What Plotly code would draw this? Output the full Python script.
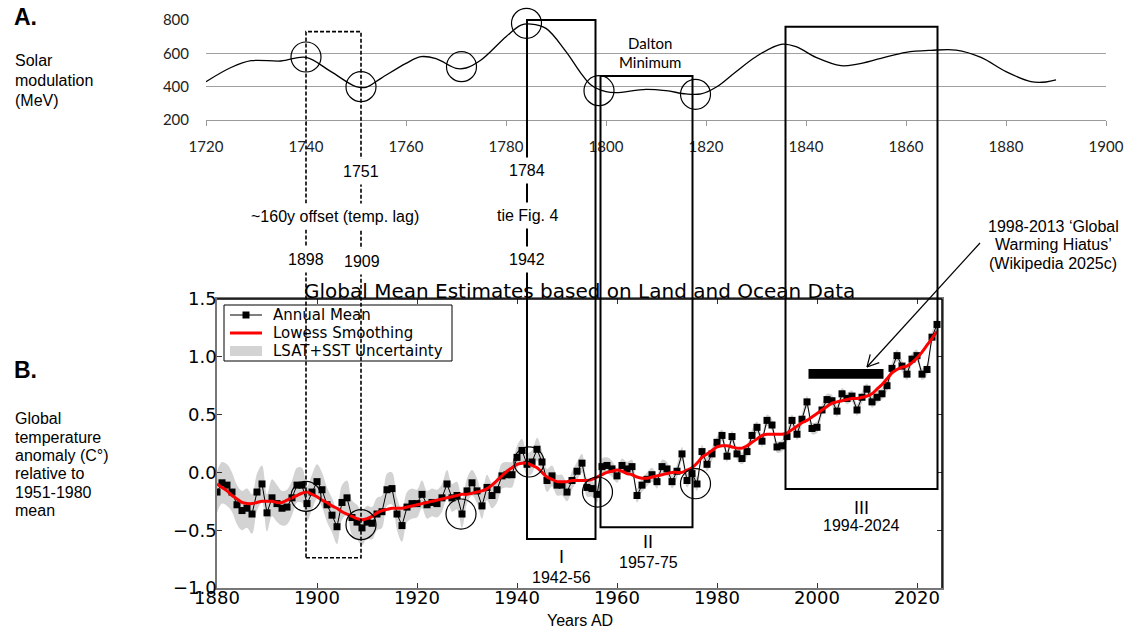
import math
import plotly.graph_objects as go

W, H = 1135, 630

# ---------------- data ----------------
solar_years = [1720, 1725, 1729, 1735, 1740, 1745, 1750, 1752, 1755, 1760, 1763, 1766,
               1770, 1772, 1775, 1780, 1783, 1785, 1788, 1792, 1795, 1797, 1800, 1802,
               1808, 1812, 1816, 1819, 1822, 1826, 1830, 1835, 1838, 1842, 1847, 1850,
               1855, 1860, 1865, 1870, 1875, 1880, 1885, 1888, 1890]
solar_mev = [430, 515, 556, 554, 576, 490, 400, 396, 450, 540, 580, 568,
             510, 512, 560, 700, 770, 776, 750, 610, 480, 410, 370, 364,
             384, 376, 356, 356, 396, 490, 580, 654, 640, 576, 526, 534,
             570, 606, 618, 620, 576, 490, 430, 428, 440]

years = list(range(1880, 2025))
annual_mean = [
    -0.17, -0.09, -0.11, -0.17, -0.28, -0.33, -0.31, -0.36, -0.17, -0.10,
    -0.35, -0.22, -0.27, -0.31, -0.30, -0.22, -0.11, -0.11, -0.27, -0.17,
    -0.08, -0.15, -0.28, -0.37, -0.47, -0.26, -0.22, -0.39, -0.43, -0.48,
    -0.43, -0.44, -0.36, -0.34, -0.15, -0.14, -0.36, -0.46, -0.30, -0.27,
    -0.27, -0.19, -0.28, -0.26, -0.27, -0.22, -0.10, -0.22, -0.20, -0.36,
    -0.16, -0.09, -0.16, -0.29, -0.13, -0.20, -0.15, -0.03, -0.02, -0.02,
    0.13, 0.19, 0.07, 0.09, 0.20, 0.09, -0.07, -0.03, -0.11, -0.11,
    -0.17, -0.07, 0.01, 0.08, -0.13, -0.14, -0.19, 0.05, 0.06, 0.03,
    -0.03, 0.06, 0.03, 0.05, -0.20, -0.11, -0.06, -0.02, -0.08, 0.05,
    0.03, -0.08, 0.01, 0.16, -0.07, -0.01, -0.10, 0.18, 0.07, 0.16,
    0.26, 0.32, 0.14, 0.31, 0.16, 0.12, 0.18, 0.32, 0.39, 0.27,
    0.45, 0.41, 0.22, 0.23, 0.31, 0.45, 0.33, 0.46, 0.61, 0.38,
    0.39, 0.54, 0.63, 0.62, 0.53, 0.68, 0.64, 0.66, 0.54, 0.65,
    0.72, 0.61, 0.65, 0.68, 0.75, 0.90, 1.01, 0.92, 0.85, 0.98,
    1.01, 0.85, 0.89, 1.17, 1.28]
lowess = [
    -0.10, -0.13, -0.16, -0.20, -0.23, -0.26, -0.27, -0.27, -0.26, -0.25,
    -0.25, -0.25, -0.26, -0.26, -0.24, -0.22, -0.20, -0.18, -0.17, -0.19,
    -0.21, -0.24, -0.26, -0.29, -0.31, -0.34, -0.36, -0.38, -0.40, -0.41,
    -0.40, -0.38, -0.35, -0.33, -0.32, -0.31, -0.31, -0.31, -0.30, -0.29,
    -0.28, -0.27, -0.26, -0.25, -0.24, -0.23, -0.22, -0.21, -0.20, -0.19,
    -0.19, -0.18, -0.17, -0.16, -0.14, -0.11, -0.07, -0.03, 0.01, 0.04,
    0.07, 0.08, 0.08, 0.06, 0.04, 0.00, -0.04, -0.06, -0.08, -0.08,
    -0.08, -0.07, -0.07, -0.07, -0.07, -0.06, -0.04, -0.02, 0.00, 0.01,
    0.02, 0.01, -0.01, -0.02, -0.04, -0.05, -0.05, -0.04, -0.03, -0.02,
    -0.01, 0.00, 0.00, 0.00, 0.02, 0.04, 0.08, 0.13, 0.16, 0.19,
    0.22, 0.23, 0.23, 0.22, 0.21, 0.21, 0.23, 0.26, 0.29, 0.32,
    0.33, 0.33, 0.33, 0.33, 0.34, 0.37, 0.40, 0.43, 0.45, 0.48,
    0.51, 0.54, 0.57, 0.60, 0.61, 0.62, 0.63, 0.64, 0.64, 0.65,
    0.66, 0.68, 0.72, 0.76, 0.81, 0.86, 0.89, 0.91, 0.92, 0.95,
    0.99, 1.04, 1.10, 1.16, 1.22]
uncertainty = [
    0.18, 0.18, 0.18, 0.17, 0.17, 0.17, 0.17, 0.17, 0.16, 0.16,
    0.16, 0.16, 0.16, 0.15, 0.15, 0.15, 0.15, 0.15, 0.15, 0.15,
    0.15, 0.15, 0.15, 0.15, 0.15, 0.15, 0.15, 0.15, 0.15, 0.15,
    0.14, 0.14, 0.14, 0.14, 0.14, 0.14, 0.14, 0.14, 0.13, 0.13,
    0.12, 0.12, 0.12, 0.12, 0.12, 0.12, 0.12, 0.12, 0.12, 0.12,
    0.11, 0.11, 0.11, 0.11, 0.11, 0.11, 0.11, 0.11, 0.11, 0.11,
    0.10, 0.10, 0.10, 0.10, 0.10, 0.10, 0.10, 0.09, 0.09, 0.09,
    0.08, 0.08, 0.08, 0.08, 0.08, 0.07, 0.07, 0.07, 0.07, 0.07,
    0.06, 0.06, 0.06, 0.06, 0.06, 0.06, 0.06, 0.06, 0.06, 0.06,
    0.06, 0.06, 0.06, 0.06, 0.06, 0.06, 0.06, 0.06, 0.06, 0.06,
    0.05, 0.05, 0.05, 0.05, 0.05, 0.05, 0.05, 0.05, 0.05, 0.05,
    0.05, 0.05, 0.05, 0.05, 0.05, 0.05, 0.05, 0.05, 0.05, 0.05,
    0.05, 0.05, 0.05, 0.05, 0.05, 0.05, 0.05, 0.05, 0.05, 0.05,
    0.05, 0.05, 0.05, 0.05, 0.05, 0.05, 0.05, 0.05, 0.05, 0.05,
    0.05, 0.05, 0.05, 0.05, 0.05]

top_xticks = [1720, 1740, 1760, 1780, 1800, 1820, 1840, 1860, 1880, 1900]
top_yticks = [200, 400, 600, 800]
bot_xticks = [1880, 1900, 1920, 1940, 1960, 1980, 2000, 2020]
bot_yticks = [-1.0, -0.5, 0.0, 0.5, 1.0, 1.5]
bot_yticktext = ["\u22121.0", "\u22120.5", "0.0", "0.5", "1.0", "1.5"]
legend_labels = ["Annual Mean", "Lowess Smoothing", "LSAT+SST Uncertainty"]

# circled points (year, value)
top_circles = [(1740, 578), (1751, 400), (1771.1, 520), (1784.1, 780), (1798.6, 376), (1817.9, 354)]
bot_circles = [(1897.8, -0.208), (1908.8, -0.452), (1928.8, -0.36), (1942.4, 0.09), (1956.1, -0.17), (1975.7, -0.098)]

# boxes spanning both panels: (year0, year1 on top axis, top value (MeV), bottom value (deg C))
tall_boxes = [(1784.2, 1797.9, 800, -0.576), (1798.9, 1817.3, 464, -0.475), (1835.9, 1866.3, 760, -0.144)]
dashed_box = (1740, 1751, 730, -0.738)
hiatus = (1998.3, 2013.3, 0.811, 0.894)

# ---------------- layout geometry (pixels) ----------------
TOP_X = (206, 1106); TOP_Y = (20, 120)
BOT_X = (217, 942); BOT_Y = (299, 588)
TOP_YR = (200, 800); BOT_YR = (-1.0, 1.5)


def px(x):
    return x / W


def py(y):
    return 1 - y / H


def ty(v):
    return py(TOP_Y[1] - (v - TOP_YR[0]) / (TOP_YR[1] - TOP_YR[0]) * (TOP_Y[1] - TOP_Y[0]))


def by(v):
    return py(BOT_Y[1] - (v - BOT_YR[0]) / (BOT_YR[1] - BOT_YR[0]) * (BOT_Y[1] - BOT_Y[0]))


fig = go.Figure()

fig.add_trace(go.Scatter(x=solar_years, y=solar_mev, mode="lines",
                         line=dict(color="black", width=1.3, shape="spline", smoothing=1.0),
                         xaxis="x", yaxis="y", showlegend=False, hoverinfo="skip"))

lower = [m - u for m, u in zip(annual_mean, uncertainty)]
upper = [m + u for m, u in zip(annual_mean, uncertainty)]
fig.add_trace(go.Scatter(x=years, y=lower, mode="lines", line=dict(width=0, shape="spline", color="#d3d3d3"),
                         xaxis="x2", yaxis="y2", showlegend=False, hoverinfo="skip"))
fig.add_trace(go.Scatter(x=years, y=upper, mode="lines", line=dict(width=0, shape="spline", color="#d3d3d3"),
                         fill="tonexty", fillcolor="#d3d3d3", name=legend_labels[2], showlegend=False,
                         xaxis="x2", yaxis="y2", hoverinfo="skip"))
fig.add_trace(go.Scatter(x=years, y=annual_mean, mode="lines+markers",
                         line=dict(color="black", width=1),
                         marker=dict(symbol="square", size=7, color="black"),
                         name=legend_labels[0], showlegend=False, xaxis="x2", yaxis="y2", hoverinfo="skip"))
fig.add_trace(go.Scatter(x=years, y=lowess, mode="lines",
                         line=dict(color="red", width=3, shape="spline"),
                         name=legend_labels[1], showlegend=False, xaxis="x2", yaxis="y2", hoverinfo="skip"))

shapes = []

# legend box (matplotlib style) - drawn first so the boxes' lines pass over it
LG = dict(x0=224, x1=452, y0=305, y1=361)
rows = [315, 333, 351]
shapes.append(dict(type="rect", xref="paper", yref="paper", x0=px(LG["x0"]), x1=px(LG["x1"]),
                   y0=py(LG["y1"]), y1=py(LG["y0"]), fillcolor="white",
                   line=dict(color="black", width=1), layer="above"))
shapes.append(dict(type="line", xref="paper", yref="paper", x0=px(230), x1=px(262), y0=py(rows[0]), y1=py(rows[0]),
                   line=dict(color="black", width=1), layer="above"))
shapes.append(dict(type="rect", xref="paper", yref="paper", x0=px(242.5), x1=px(249.5),
                   y0=py(rows[0] + 3.5), y1=py(rows[0] - 3.5), fillcolor="black",
                   line=dict(width=0), layer="above"))
shapes.append(dict(type="line", xref="paper", yref="paper", x0=px(230), x1=px(262), y0=py(rows[1]), y1=py(rows[1]),
                   line=dict(color="red", width=3), layer="above"))
shapes.append(dict(type="rect", xref="paper", yref="paper", x0=px(230), x1=px(262),
                   y0=py(rows[2] + 5), y1=py(rows[2] - 5), fillcolor="#d3d3d3",
                   line=dict(width=0), layer="above"))

for x0, x1, vt, vb in tall_boxes:
    shapes.append(dict(type="rect", xref="x", yref="paper", x0=x0, x1=x1, y0=by(vb), y1=ty(vt),
                       line=dict(color="black", width=2), layer="above"))
x0, x1, vt, vb = dashed_box
shapes.append(dict(type="rect", xref="x", yref="paper", x0=x0, x1=x1, y0=by(vb), y1=ty(vt),
                   line=dict(color="black", width=1.6, dash="4px,2px"), layer="above"))
r_px = 15
for cx, cy in top_circles:
    shapes.append(dict(type="circle", xref="x", yref="paper", x0=cx - 3, x1=cx + 3,
                       y0=ty(cy) - r_px / H, y1=ty(cy) + r_px / H,
                       line=dict(color="black", width=1.2), layer="above"))
for cx, cy in bot_circles:
    shapes.append(dict(type="circle", xref="x2", yref="y2", x0=cx - 3, x1=cx + 3,
                       y0=cy - 0.13, y1=cy + 0.13,
                       line=dict(color="black", width=1.2), layer="above"))
shapes.append(dict(type="rect", xref="x2", yref="y2", x0=hiatus[0], x1=hiatus[1], y0=hiatus[2], y1=hiatus[3],
                   fillcolor="black", line=dict(width=0), layer="above"))
shapes.append(dict(type="line", xref="paper", yref="paper", x0=px(BOT_X[0]), x1=px(BOT_X[1]),
                   y0=py(BOT_Y[0]), y1=py(BOT_Y[0]), line=dict(color="black", width=1.5)))
shapes.append(dict(type="line", xref="paper", yref="paper", x0=px(BOT_X[1]), x1=px(BOT_X[1]),
                   y0=py(BOT_Y[0]), y1=py(BOT_Y[1]), line=dict(color="black", width=1.5)))
tail = (980, 243); tip = (867, 367)
shapes.append(dict(type="line", xref="paper", yref="paper", x0=px(tail[0]), y0=py(tail[1]),
                   x1=px(tip[0]), y1=py(tip[1]), line=dict(color="black", width=1.2)))
dx, dy = tail[0] - tip[0], tail[1] - tip[1]
L = math.hypot(dx, dy)
ux, uy = dx / L, dy / L
for ang in (math.radians(28), -math.radians(28)):
    vx = ux * math.cos(ang) - uy * math.sin(ang)
    vy = ux * math.sin(ang) + uy * math.cos(ang)
    shapes.append(dict(type="line", xref="paper", yref="paper", x0=px(tip[0]), y0=py(tip[1]),
                       x1=px(tip[0] + 13 * vx), y1=py(tip[1] + 13 * vy),
                       line=dict(color="black", width=1.2)))

ann = []


def add_text(text, x, y, size, family="Liberation Sans", xanchor="center", bg=None, bold=False, pad=1):
    d = dict(text=("<b>%s</b>" % text) if bold else text, x=px(x), y=py(y), xref="paper", yref="paper",
             xanchor=xanchor, yanchor="middle", showarrow=False,
             font=dict(family=family, size=size, color="black"), borderpad=pad)
    if bg:
        d["bgcolor"] = bg
    ann.append(d)


for lab, yy in zip(legend_labels, rows):
    add_text(lab, 272, yy, 15, family="DejaVu Sans", xanchor="left", pad=0)

add_text("A.", 12, 17, 23, xanchor="left", bold=True)
for t, yy in [("Solar", 60), ("modulation", 81), ("(MeV)", 100)]:
    add_text(t, 13, yy, 16, xanchor="left")
add_text("B.", 12, 370, 23, xanchor="left", bold=True)
for t, yy in [("Global", 418), ("temperature", 437), ("anomaly (C\u00b0)", 455), ("relative to", 473),
              ("1951-1980", 492), ("mean", 510)]:
    add_text(t, 13, yy, 16, xanchor="left")

for t, xx, yy in [("1751", 361, 172), ("1784", 527, 171), ("~160y offset (temp. lag)", 335, 216),
                  ("tie Fig. 4", 527, 215), ("1898", 306, 259), ("1909", 362, 261), ("1942", 527, 259)]:
    add_text(t, xx, yy, 16, bg="white", pad=4)

add_text("Dalton", 650, 43, 15, family="Lato")
add_text("Minimum", 650, 62, 15, family="Lato")

add_text("Global Mean Estimates based on Land and Ocean Data", 579.5, 291, 20, family="DejaVu Sans")
add_text("Years AD", 580, 620, 16)

add_text("I", 561, 557, 18)
add_text("1942-56", 561, 577, 16)
add_text("II", 648, 542, 18)
add_text("1957-75", 648, 562, 16)
add_text("III", 861, 508, 18)
add_text("1994-2024", 861, 525, 16)

add_text("1998-2013 \u2018Global", 1053, 226, 16)
add_text("Warming Hiatus\u2019", 1053, 245, 16)
add_text("(Wikipedia 2025c)", 1053, 263, 16)

fig.update_layout(
    width=W, height=H, margin=dict(l=0, r=0, t=0, b=0, pad=0, autoexpand=False),
    paper_bgcolor="white", plot_bgcolor="rgba(0,0,0,0)",
    showlegend=False, hovermode=False,
    shapes=shapes, annotations=ann,
    xaxis=dict(domain=[px(TOP_X[0]), px(TOP_X[1])], range=[1720, 1900], anchor="y",
               tickvals=top_xticks, ticks="outside", ticklen=5, tickcolor="#999", showline=True,
               linecolor="#999", linewidth=1, showgrid=False, zeroline=False, automargin=False,
               tickfont=dict(family="Lato", size=15, color="#222"), ticklabelstandoff=8),
    yaxis=dict(domain=[py(TOP_Y[1]), py(TOP_Y[0])], range=[199.5, 800.5], anchor="x",
               tickvals=top_yticks, showgrid=True, gridcolor="#a0a0a0", gridwidth=1, zeroline=False,
               showline=False, ticks="", automargin=False,
               tickfont=dict(family="Lato", size=15, color="#222"), ticklabelstandoff=16),
    xaxis2=dict(domain=[px(BOT_X[0]), px(BOT_X[1])], range=[1880, 2025], anchor="y2",
                tickvals=bot_xticks, ticks="inside", ticklen=5, tickcolor="#333", mirror="ticks",
                showline=True, linecolor="#777", linewidth=1.5, showgrid=False, zeroline=False,
                automargin=False, ticklabelstandoff=-7,
                tickfont=dict(family="DejaVu Sans", size=18, color="black")),
    yaxis2=dict(domain=[py(BOT_Y[1]), py(BOT_Y[0])], range=[-1.0, 1.5], anchor="x2",
                tickvals=bot_yticks, ticktext=bot_yticktext, ticks="inside", ticklen=5, tickcolor="#333",
                mirror="ticks", showline=True, linecolor="#777", linewidth=1.5, showgrid=False,
                zeroline=False, automargin=False, ticklabelstandoff=-5,
                tickfont=dict(family="DejaVu Sans", size=18, color="black")),
)

fig.write_html("out.html")
